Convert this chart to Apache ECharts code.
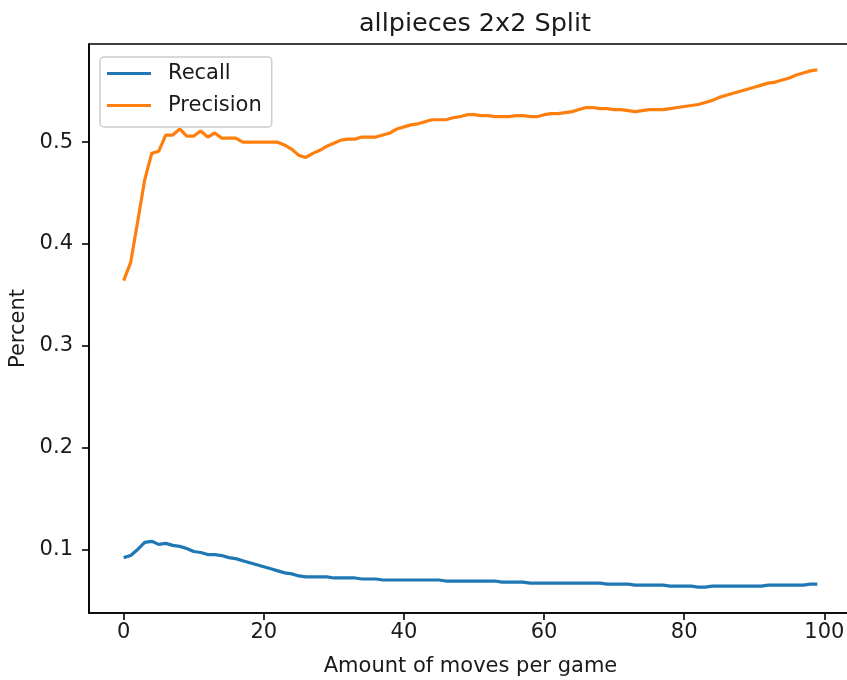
<!DOCTYPE html>
<html>
<head>
<meta charset="utf-8">
<script src="https://cdn.jsdelivr.net/npm/echarts@6/dist/echarts.min.js"></script>
<style>html,body{margin:0;padding:0;background:#fff}#c{width:847px;height:680px}</style>
</head>
<body>
<div id="c"></div>
<script>
const titleText = 'allpieces 2x2 Split';
const xName = 'Amount of moves per game';
const yName = 'Percent';
const xTicks = [0, 20, 40, 60, 80, 100];
const yTicks = [0.1, 0.2, 0.3, 0.4, 0.5];
const moves = Array.from({length: 100}, (_, i) => i);
const recall = [
0.092,0.094,0.100,0.107,0.108,0.105,0.106,0.104,0.103,0.101,
0.098,0.097,0.095,0.095,0.094,0.092,0.091,0.089,0.087,0.085,
0.083,0.081,0.079,0.077,0.076,0.074,0.073,0.073,0.073,0.073,
0.072,0.072,0.072,0.072,0.071,0.071,0.071,0.070,0.070,0.070,
0.070,0.070,0.070,0.070,0.070,0.070,0.069,0.069,0.069,0.069,
0.069,0.069,0.069,0.069,0.068,0.068,0.068,0.068,0.067,0.067,
0.067,0.067,0.067,0.067,0.067,0.067,0.067,0.067,0.067,0.066,
0.066,0.066,0.066,0.065,0.065,0.065,0.065,0.065,0.064,0.064,
0.064,0.064,0.063,0.063,0.064,0.064,0.064,0.064,0.064,0.064,
0.064,0.064,0.065,0.065,0.065,0.065,0.065,0.065,0.066,0.066
];
const precision = [
0.364,0.382,0.422,0.463,0.489,0.491,0.507,0.507,0.513,0.506,
0.506,0.511,0.505,0.509,0.504,0.504,0.504,0.500,0.500,0.500,
0.500,0.500,0.500,0.497,0.493,0.487,0.485,0.489,0.492,0.496,
0.499,0.502,0.503,0.503,0.505,0.505,0.505,0.507,0.509,0.513,
0.515,0.517,0.518,0.520,0.522,0.522,0.522,0.524,0.525,0.527,
0.527,0.526,0.526,0.525,0.525,0.525,0.526,0.526,0.525,0.525,
0.527,0.528,0.528,0.529,0.530,0.532,0.534,0.534,0.533,0.533,
0.532,0.532,0.531,0.530,0.531,0.532,0.532,0.532,0.533,0.534,
0.535,0.536,0.537,0.539,0.541,0.544,0.546,0.548,0.550,0.552,
0.554,0.556,0.558,0.559,0.561,0.563,0.566,0.568,0.570,0.571
];

const FONT = 'DejaVu Sans';
const TXT = '#1a1a1a';
const FS = 21;
const chart = echarts.init(document.getElementById('c'), null, {renderer: 'canvas'});
chart.setOption({
  animation: false,
  backgroundColor: '#fff',
  title: {
    text: titleText, left: 470, top: 6, textAlign: 'center',
    textStyle: {fontFamily: FONT, fontSize: 25.5, fontWeight: 'normal', color: TXT}
  },
  legend: {
    orient: 'vertical', left: 100, top: 57,
    padding: [6, 10, 11, 7], itemGap: 11,
    itemWidth: 44, itemHeight: 3, icon: 'rect',
    borderColor: '#cccccc', borderWidth: 1.5, borderRadius: 4,
    backgroundColor: 'rgba(255,255,255,0.8)',
    textStyle: {fontFamily: FONT, fontSize: FS, color: TXT, lineHeight: 21, padding: [0, 0, 0, 12]},
    data: ['Recall', 'Precision']
  },
  grid: {
    left: 89, top: 44, width: 763, height: 569,
    outerBoundsMode: 'none', containLabel: false,
    show: true, borderColor: '#000', borderWidth: 1.6, backgroundColor: 'transparent'
  },
  xAxis: {
    type: 'value', min: -4.95, max: 103.95,
    name: xName, nameLocation: 'middle', nameGap: 43,
    nameTextStyle: {fontFamily: FONT, fontSize: FS, color: TXT},
    axisLine: {show: true, onZero: false, lineStyle: {color: '#000', width: 1.6}},
    axisTick: {show: true, inside: false, length: 7, lineStyle: {color: '#000', width: 1.6}, customValues: xTicks},
    axisLabel: {fontFamily: FONT, fontSize: FS, color: TXT, margin: 9, customValues: xTicks},
    splitLine: {show: false}
  },
  yAxis: {
    type: 'value', min: 0.0376, max: 0.5964,
    name: yName, nameLocation: 'middle', nameGap: 56,
    nameTextStyle: {fontFamily: FONT, fontSize: FS, color: TXT},
    axisLine: {show: true, onZero: false, lineStyle: {color: '#000', width: 1.6}},
    axisTick: {show: true, inside: false, length: 7, lineStyle: {color: '#000', width: 1.6}, customValues: yTicks},
    axisLabel: {fontFamily: FONT, fontSize: FS, color: TXT, margin: 16, customValues: yTicks,
      formatter: v => v.toFixed(1)},
    splitLine: {show: false}
  },
  series: [
    {name: 'Recall', type: 'line', data: moves.map((m, i) => [m, recall[i]]),
     showSymbol: false, symbol: 'none', lineStyle: {color: '#1f77b4', width: 3.2}, itemStyle: {color: '#1f77b4'}},
    {name: 'Precision', type: 'line', data: moves.map((m, i) => [m, precision[i]]),
     showSymbol: false, symbol: 'none', lineStyle: {color: '#ff7f0e', width: 3.2}, itemStyle: {color: '#ff7f0e'}}
  ]
});
</script>
</body>
</html>
